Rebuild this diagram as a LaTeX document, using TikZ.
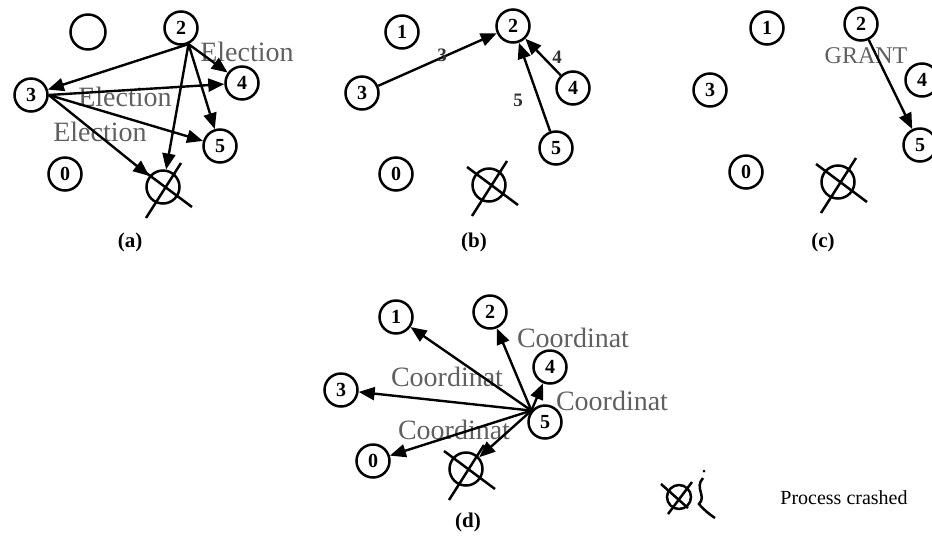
\documentclass[tikz,border=0pt]{standalone}
\usepackage{fontspec}
\setmainfont{Liberation Serif}
\usetikzlibrary{arrows.meta, calc}
\definecolor{elInk}{HTML}{000000}
\definecolor{elMsg}{HTML}{606060}
\definecolor{elVote}{HTML}{303030}
\tikzset{
  proc/.style={
    draw=elInk, circle, line width=2.5pt, minimum size=33pt, inner sep=0pt,
    font=\fontsize{20}{20}\selectfont\bfseries,
  },
  msg/.style={
    -{Triangle[length=16pt, width=13pt]}, draw=elInk, line width=2.4pt,
  },
  msglabel/.style={text=elMsg, inner sep=0pt, font=\fontsize{28}{28}\selectfont},
  votelabel/.style={text=elVote, inner sep=0pt, font=\fontsize{19}{19}\selectfont\bfseries},
  crashline/.style={draw=elInk, line width=2.5pt},
  caption/.style={inner sep=0pt, font=\fontsize{21}{21}\selectfont\bfseries},
}
% crossed-out process: circle plus two long strokes
\newcommand{\crashed}[2]{%
  \node[proc] (#1) at (#2) {};%
  \draw[crashline] ($(#1.center)+(-17,31)$) -- ($(#1.center)+(18,-24)$);%
  \draw[crashline] ($(#1.center)+(-22,-18)$) -- ($(#1.center)+(29,20)$);%
}

\begin{document}
\begin{tikzpicture}[x=1pt, y=-1pt]
\useasboundingbox (0,0) rectangle (932,539);

% (a) ---------------------------------------------------------------------
\node[msglabel] (la1) at (247,52) {Election};
\node[msglabel] (la2) at (125,97) {Election};
\node[msglabel] (la3) at (100,132) {Election};
\node[proc, minimum size=35pt] (a1) at (88,32) {};
\node[proc] (a2) at (181,28) {2};
\node[proc] (a3) at (31,95) {3};
\node[proc] (a4) at (242,83) {4};
\node[proc] (a5) at (220,146) {5};
\node[proc] (a0) at (65,174) {0};
\crashed{a6}{163,187}
\foreach \b in {a3, a4, a5, a6}{%
  \draw[msg] (a2.-65) -- (\b);
}
\foreach \b in {a4, a5, a6}{%
  \draw[msg] (a3.east) -- (\b);
}
\node[caption] (capa) at (130,242) {(a)};

% (b) ---------------------------------------------------------------------
\node[proc] (b1) at (402,32) {1};
\node[proc] (b2) at (513,26) {2};
\node[proc] (b3) at (362,93) {3};
\node[proc] (b4) at (573,88) {4};
\node[proc] (b5) at (556,148) {5};
\node[proc] (b0) at (396,174) {0};
\crashed{b6}{489,185}
\foreach \a in {b3, b4, b5}{%
  \draw[msg] (\a) -- (b2);
}
\node[votelabel] (lb3) at (442,55) {3};
\node[votelabel] (lb4) at (557,57) {4};
\node[votelabel] (lb5) at (518,100) {5};
\node[caption] (capb) at (474,242) {(b)};

% (c) ---------------------------------------------------------------------
\node[msglabel, font=\fontsize{24}{24}\selectfont] (lc) at (866,56) {GRANT};
\node[proc] (c1) at (767,28) {1};
\node[proc] (c2) at (861,24) {2};
\node[proc] (c3) at (710,90) {3};
\node[proc] (c4) at (922,80) {4};
\node[proc] (c5) at (920,145) {5};
\node[proc] (c0) at (746,172) {0};
\crashed{c6}{838,182}
\draw[msg] (c2) -- (c5);
\node[caption] (capc) at (823,242) {(c)};

% (d) ---------------------------------------------------------------------
\node[msglabel] (ld1) at (573,338) {Coordinat};
\node[msglabel] (ld2) at (447,377) {Coordinat};
\node[msglabel] (ld3) at (612,401) {Coordinat};
\node[msglabel] (ld4) at (454,430) {Coordinat};
\node[proc] (d1) at (396,317) {1};
\node[proc] (d2) at (490,312) {2};
\node[proc] (d3) at (341,390) {3};
\node[proc] (d4) at (550,367) {4};
\node[proc] (d5) at (545,422) {5};
\node[proc] (d0) at (373,461) {0};
\crashed{d6}{466,469}
\foreach \b in {d1, d2, d3, d4, d0, d6}{%
  \draw[msg] (d5.140) -- (\b);
}
\node[caption] (capd) at (468,522) {(d)};

% Legend ------------------------------------------------------------------
\node[draw=elInk, circle, line width=2.5pt, minimum size=24pt, inner sep=0pt] (key) at (679,497) {};
\draw[crashline] ($(key.center)+(-11,17)$) -- ($(key.center)+(13,-15)$);
\draw[crashline] ($(key.center)+(-18,-13)$) -- ($(key.center)+(9,11)$);
\draw[crashline] (703,478) .. controls (694,488) and (707,496) .. (699,504)
  .. controls (704,510) and (709,514) .. (715,518);
\fill[elInk] (704,471) circle (1.5pt);
\node[inner sep=0pt, font=\fontsize{20}{20}\selectfont] (keytext) at (844,498) {Process crashed};

\end{tikzpicture}
\end{document}
